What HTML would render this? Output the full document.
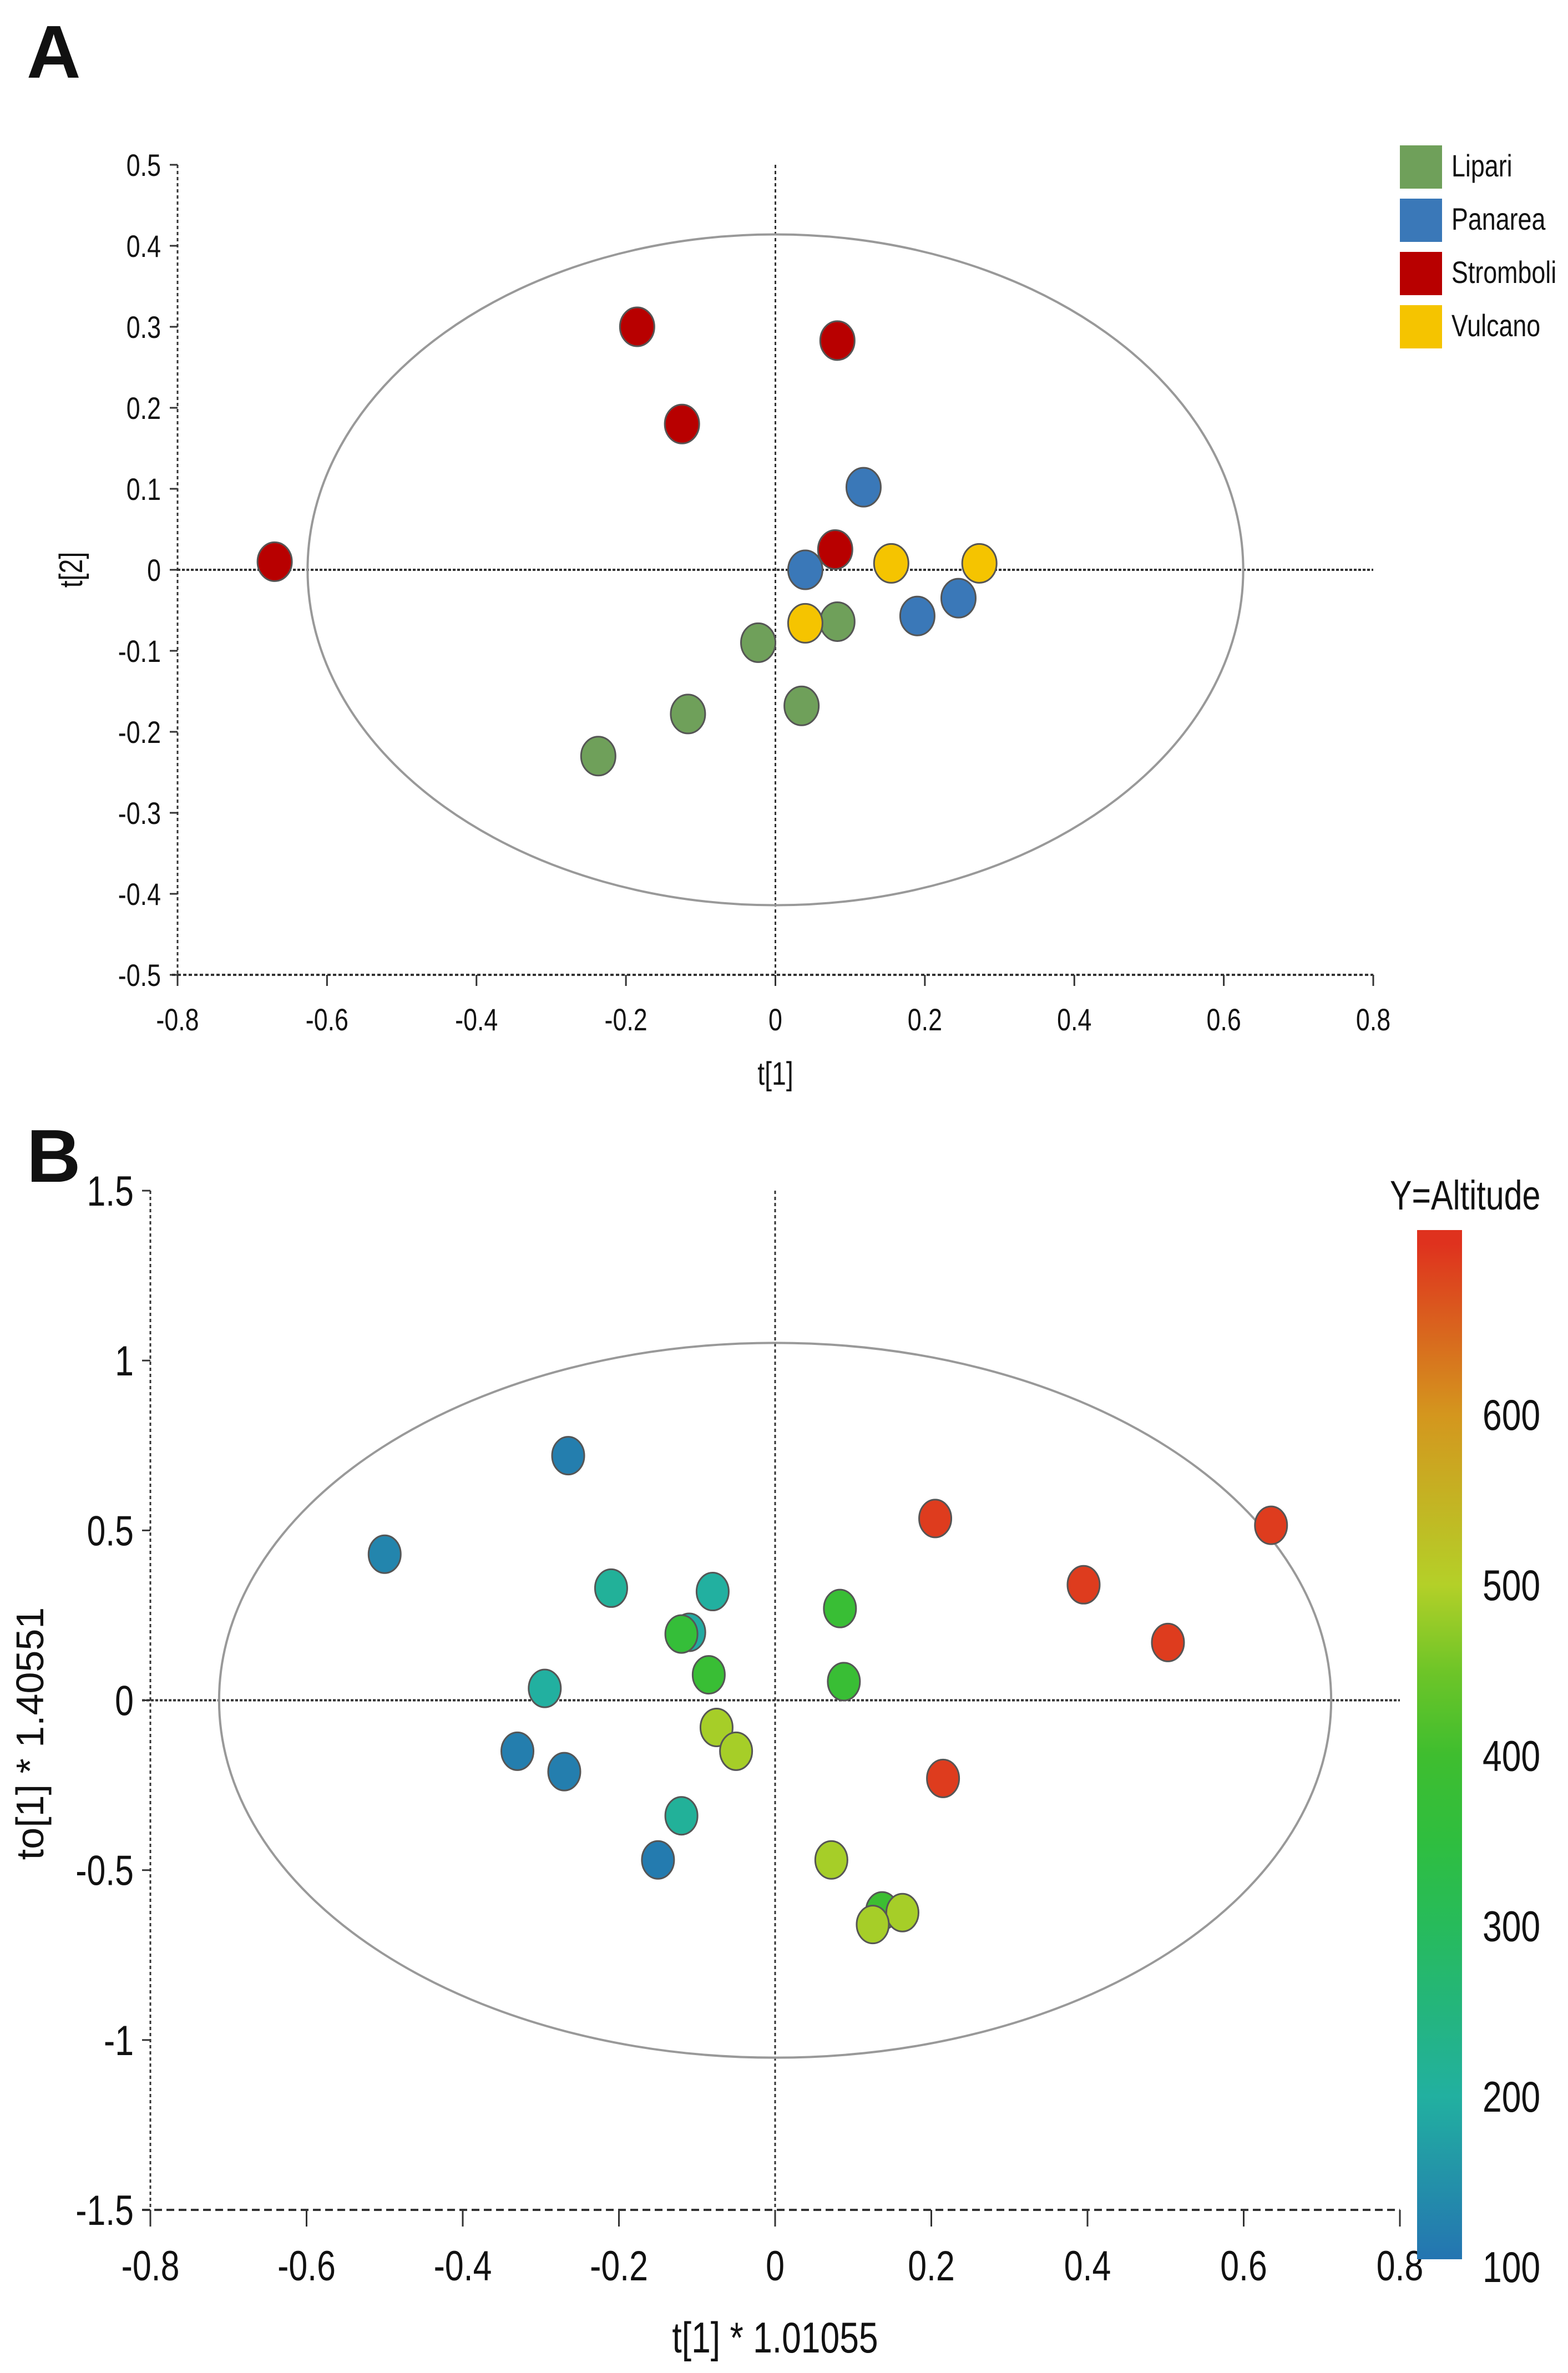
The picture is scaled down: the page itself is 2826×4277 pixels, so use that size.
<!DOCTYPE html>
<html><head><meta charset="utf-8"><style>
html,body{margin:0;padding:0;background:#fff}
svg{display:block}
text{font-family:"Liberation Sans",sans-serif;fill:#111}
</style></head><body>
<svg id="fig" width="2826" height="4277" viewBox="0 0 2826 4277" xmlns="http://www.w3.org/2000/svg">
<text x="48" y="140" style="font-family:'Liberation Sans',sans-serif;font-weight:bold;font-size:135px">A</text>
<text x="48" y="2130" style="font-family:'Liberation Sans',sans-serif;font-weight:bold;font-size:135px">B</text>
<g id="gA"></g>
<g id="gB"></g>
</svg>
<script>
// ---- Panel A data ----
const aGroups = ["Lipari","Panarea","Stromboli","Vulcano"];
const aColors = ["#6fa05a","#3a78b8","#b80000","#f5c400"];
const aLipariT1 = [0.083,-0.023,0.035,-0.117,-0.237];
const aLipariT2 = [-0.064,-0.09,-0.168,-0.178,-0.23];
const aPanareaT1 = [0.118,0.04,0.19,0.245];
const aPanareaT2 = [0.102,0.0,-0.057,-0.035];
const aStromboliT1 = [-0.67,-0.185,-0.125,0.083,0.08];
const aStromboliT2 = [0.01,0.30,0.18,0.283,0.025];
const aVulcanoT1 = [0.155,0.273,0.04];
const aVulcanoT2 = [0.008,0.008,-0.066];
const aXTicks = [-0.8,-0.6,-0.4,-0.2,0,0.2,0.4,0.6,0.8];
const aYTicks = [0.5,0.4,0.3,0.2,0.1,0,-0.1,-0.2,-0.3,-0.4,-0.5];
const aEllipse = [0.626,0.414];
// ---- Panel B data ----
const bT1 = [-0.265,-0.5,-0.33,-0.27,-0.15,-0.21,-0.08,-0.11,-0.295,-0.12,-0.12,-0.085,0.083,0.088,0.137,-0.075,-0.05,0.072,0.163,0.125,0.205,0.395,0.503,0.635,0.215];
const bTo1 = [0.72,0.43,-0.15,-0.21,-0.47,0.33,0.32,0.20,0.035,-0.34,0.195,0.075,0.27,0.055,-0.62,-0.08,-0.15,-0.47,-0.625,-0.66,0.535,0.34,0.17,0.515,-0.23];
const bAltitude = [120,130,120,120,115,210,200,190,200,210,370,380,380,380,390,490,490,490,490,490,690,690,690,690,690];
const bXTicks = [-0.8,-0.6,-0.4,-0.2,0,0.2,0.4,0.6,0.8];
const bYTicks = [1.5,1,0.5,0,-0.5,-1,-1.5];
const bColorTicks = [100,200,300,400,500,600];
const bEllipse = [0.712,1.052];

const NS="http://www.w3.org/2000/svg";
function mk(parent,tag,attrs,txt){const e=document.createElementNS(NS,tag);for(const k in attrs)e.setAttribute(k,attrs[k]);if(txt!==undefined)e.textContent=txt;parent.appendChild(e);return e;}
// condensed text: position via transform, squeeze horizontally
function tx(parent,x,y,str,size,anchor,rot){
  const tr=rot?`translate(${x},${y}) rotate(${rot}) scale(0.8,1)`:`translate(${x},${y}) scale(0.8,1)`;
  return mk(parent,'text',{x:0,y:0,'text-anchor':anchor||'start','font-size':size,transform:tr},str);
}
function lab(v){return v===0?"0":String(v);}

// ---- Panel A ----
const gA=document.getElementById('gA');
const axA={x0:320,x1:2475,y0:297,y1:1757};
const axX=v=>axA.x0+(v+0.8)/1.6*(axA.x1-axA.x0);
const axY=v=>axA.y0+(0.5-v)/1.0*(axA.y1-axA.y0);
let e;
e=mk(gA,'line',{x1:axA.x0,y1:axA.y0,x2:axA.x0,y2:axA.y1+10,stroke:'#333','stroke-width':3,'stroke-dasharray':'6 5'});

e=mk(gA,'line',{x1:axA.x0-10,y1:axA.y1,x2:axA.x1,y2:axA.y1,stroke:'#333','stroke-width':4,'stroke-dasharray':'6 4'});

e=mk(gA,'line',{x1:axX(0),y1:axA.y0,x2:axX(0),y2:axA.y1,stroke:'#333','stroke-width':3,'stroke-dasharray':'6 5'});

e=mk(gA,'line',{x1:axA.x0,y1:axY(0),x2:axA.x1,y2:axY(0),stroke:'#333','stroke-width':4,'stroke-dasharray':'5 3'});

aXTicks.forEach(v=>{
  e=mk(gA,'line',{x1:axX(v),y1:axA.y1,x2:axX(v),y2:axA.y1+20,stroke:'#333','stroke-width':3});
  
  e=tx(gA,axX(v),axA.y1+100,lab(v),56,'middle');
  
});
aYTicks.forEach(v=>{
  e=mk(gA,'line',{x1:axA.x0-14,y1:axY(v),x2:axA.x0,y2:axY(v),stroke:'#333','stroke-width':3});
  
  e=tx(gA,axA.x0-30,axY(v)+20,lab(v),56,'end');
  
});
e=tx(gA,axX(0),1955,'t[1]',58,'middle');

e=tx(gA,148,axY(0),'t[2]',58,'middle',-90);

e=mk(gA,'ellipse',{cx:axX(0),cy:axY(0),rx:axX(aEllipse[0])-axX(0),ry:axY(0)-axY(aEllipse[1]),fill:'none',stroke:'#999','stroke-width':4});

const aSeries=[[aLipariT1,aLipariT2],[aPanareaT1,aPanareaT2],[aStromboliT1,aStromboliT2],[aVulcanoT1,aVulcanoT2]];
aSeries.forEach((s,gi)=>{
  s[0].forEach((x,i)=>{
    e=mk(gA,'ellipse',{cx:axX(x),cy:axY(s[1][i]),rx:31,ry:35,fill:aColors[gi],stroke:'#555','stroke-width':3});
    
  });
  e=mk(gA,'rect',{x:2523,y:262+gi*96,width:76,height:78,fill:aColors[gi]});
  
  e=tx(gA,2616,318+gi*96,aGroups[gi],56,'start');
  
});

// ---- Panel B ----
const gB=document.getElementById('gB');
const axB={x0:271,x1:2523,y0:2146,y1:3983};
const bx=v=>axB.x0+(v+0.8)/1.6*(axB.x1-axB.x0);
const by=v=>axB.y0+(1.5-v)/3.0*(axB.y1-axB.y0);
const stops=[[100,[36,114,178]],[200,[34,176,160]],[330,[40,190,70]],[420,[70,190,40]],[500,[180,208,40]],[600,[212,150,30]],[710,[224,40,30]]];
function cmap(v){for(let i=0;i<stops.length-1;i++){const a=stops[i],b=stops[i+1];if(v<=b[0]){const t=Math.max(0,(v-a[0])/(b[0]-a[0]));return 'rgb('+a[1].map((c,k)=>Math.round(c+(b[1][k]-c)*t)).join(',')+')';}}return 'rgb(224,40,30)';}
e=mk(gB,'line',{x1:axB.x0,y1:axB.y0,x2:axB.x0,y2:axB.y1,stroke:'#333','stroke-width':3,'stroke-dasharray':'6 5'});

e=mk(gB,'line',{x1:axB.x0-15,y1:axB.y1,x2:axB.x1,y2:axB.y1,stroke:'#333','stroke-width':4,'stroke-dasharray':'14 8'});

e=mk(gB,'line',{x1:bx(0),y1:axB.y0,x2:bx(0),y2:axB.y1,stroke:'#333','stroke-width':3,'stroke-dasharray':'6 5'});

e=mk(gB,'line',{x1:axB.x0-15,y1:by(0),x2:axB.x1,y2:by(0),stroke:'#333','stroke-width':4,'stroke-dasharray':'5 3'});

bXTicks.forEach(v=>{
  e=mk(gB,'line',{x1:bx(v),y1:axB.y1,x2:bx(v),y2:axB.y1+30,stroke:'#333','stroke-width':3});
  
  e=tx(gB,bx(v),4110,lab(v),76,'middle');
  
});
bYTicks.forEach(v=>{
  e=mk(gB,'line',{x1:axB.x0-15,y1:by(v),x2:axB.x0,y2:by(v),stroke:'#333','stroke-width':3});
  
  e=tx(gB,axB.x0-30,by(v)+27,lab(v),76,'end');
  
});
e=tx(gB,bx(0),4240,'t[1] * 1.01055',78,'middle');

e=mk(gB,'text',{x:0,y:0,'text-anchor':'middle','font-size':70,transform:`translate(78,${by(0)+60}) rotate(-90)`},'to[1] * 1.40551');

e=mk(gB,'ellipse',{cx:bx(0),cy:by(0),rx:bx(bEllipse[0])-bx(0),ry:by(0)-by(bEllipse[1]),fill:'none',stroke:'#999','stroke-width':4});

bT1.forEach((x,i)=>{
  e=mk(gB,'ellipse',{cx:bx(x),cy:by(bTo1[i]),rx:29,ry:34,fill:cmap(bAltitude[i]),stroke:'#555','stroke-width':3});
  
});
// colorbar
const cb={x:2554,w:81,top:2217,bot:4072,vmin:100,vmax:708,y100:4085};
const cy=v=>cb.y100-(v-cb.vmin)/(cb.vmax-cb.vmin)*(cb.y100-cb.top);
const defs=mk(gB,'defs',{});
const lg=mk(defs,'linearGradient',{id:'cbg',gradientUnits:'userSpaceOnUse',x1:0,y1:cy(100),x2:0,y2:cy(708)});
for(let v=100;v<=700;v+=50){mk(lg,'stop',{offset:((v-cb.vmin)/(cb.vmax-cb.vmin)),'stop-color':cmap(v)});}
e=mk(gB,'rect',{x:cb.x,y:cb.top,width:cb.w,height:cb.bot-cb.top,fill:'url(#cbg)'});

bColorTicks.forEach(v=>{
  e=tx(gB,2672,cy(v)+28,String(v),78,'start');
  
});
e=tx(gB,2505,2180,'Y=Altitude',74,'start');

</script>
</body></html>
